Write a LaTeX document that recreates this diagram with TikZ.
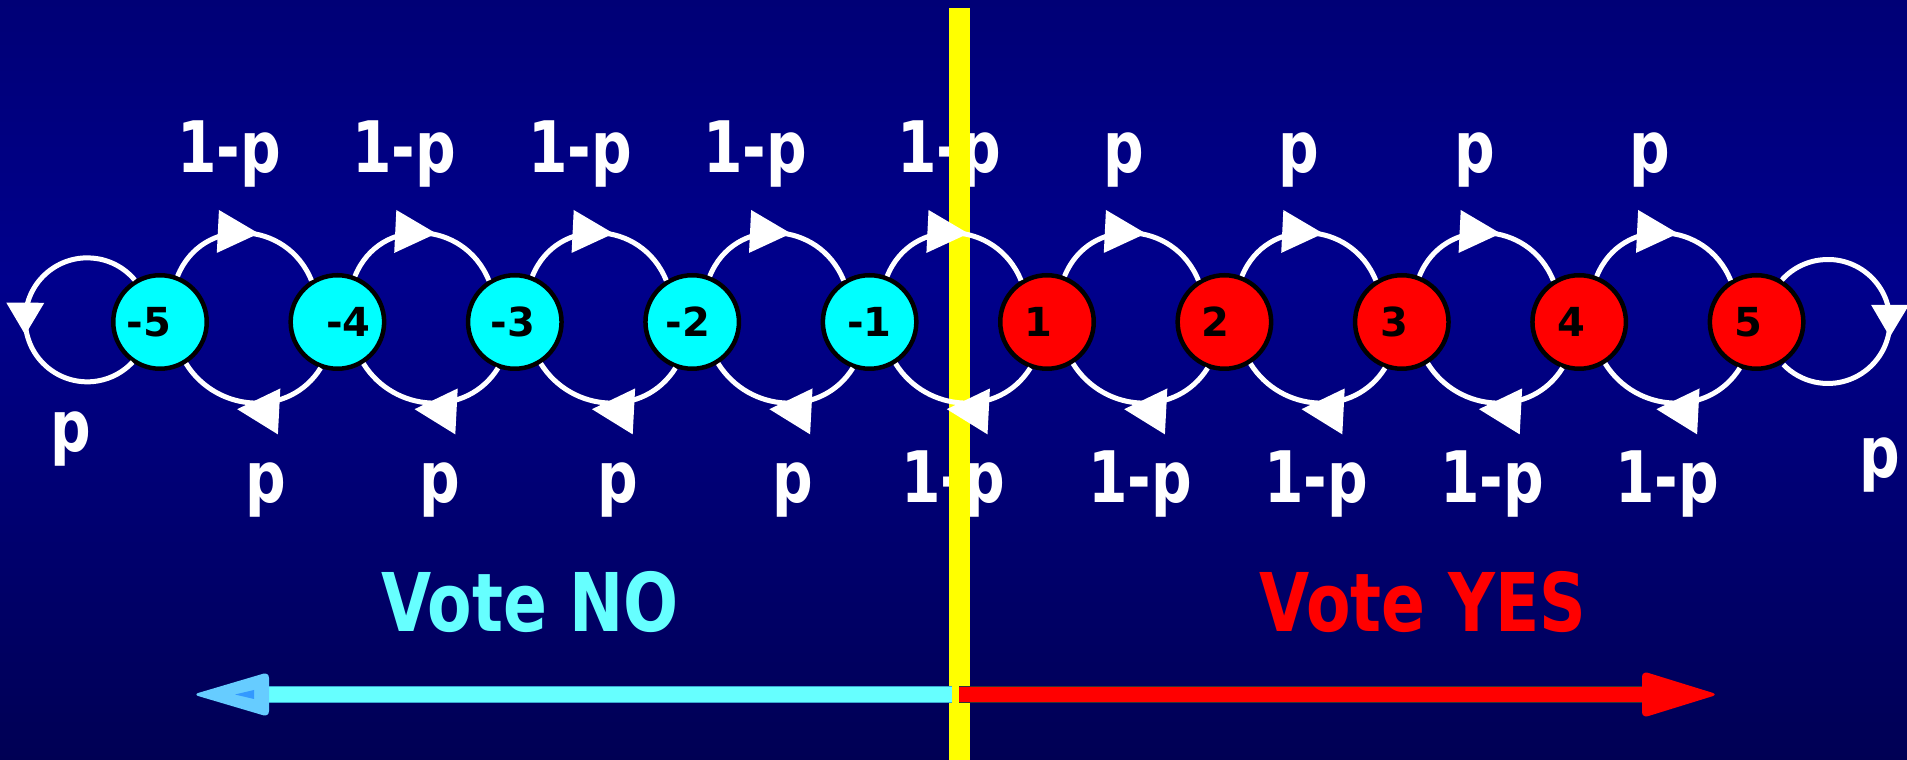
\documentclass[tikz,border=0pt]{standalone}
\usepackage{fontspec}
\usetikzlibrary{decorations.markings}
\newfontfamily\labfont[FakeStretch=0.8]{DejaVu Sans}
\newfontfamily\numfont{DejaVu Sans}
\definecolor{bgtop}{RGB}{0,0,118}
\definecolor{bgmid}{RGB}{0,0,140}
\definecolor{bgbot}{RGB}{0,0,84}
\definecolor{noclr}{RGB}{102,255,255}
\definecolor{noedge}{RGB}{60,170,210}
\definecolor{nohead}{RGB}{102,204,255}
\definecolor{noinner}{RGB}{51,153,255}
\definecolor{yesclr}{RGB}{255,0,0}
\definecolor{divider}{RGB}{255,255,0}
\definecolor{stateno}{RGB}{0,255,255}
\tikzset{
  statenode/.style={circle, draw=black, line width=4.5pt, minimum size=93.5pt, inner sep=0pt},
  nostate/.style={statenode, fill=stateno},
  yesstate/.style={statenode, fill=yesclr},
  statelabel/.style={font=\numfont\bfseries\fontsize{40}{40}\selectfont, text=black, inner sep=0pt},
  problabel/.style={anchor=base, text=white, font=\labfont\bfseries\fontsize{71}{71}\selectfont, inner sep=0pt},
  sidelabel/.style={anchor=base, font=\labfont\bfseries\fontsize{81}{81}\selectfont, inner sep=0pt},
  move/.style={draw=white, line width=5pt, postaction={decorate}},
  fwdmove/.style={move, decoration={markings, mark=at position 0.5 with
      {\fill[white] (13.5pt,0pt) -- (-27.5pt,21.5pt) -- (-27.5pt,-21.5pt) -- cycle;}}},
  backmove/.style={move, decoration={markings, mark=at position 0.5 with
      {\fill[white] (15pt,7pt) -- (-27pt,30pt) -- (-27pt,-16pt) -- cycle;}}},
  loopmove/.style={move, decoration={markings, mark=at position 0.505 with
      {\fill[white] (15pt,0pt) -- (-17pt,19pt) -- (-17pt,-19pt) -- cycle;}}},
}
\begin{document}
\begin{tikzpicture}[x=1pt,y=1pt]
\useasboundingbox (0,0) rectangle (1907,760);
% background
\shade[top color=bgtop, bottom color=bgmid] (0,760) rectangle (1907,479);
\shade[top color=bgmid, bottom color=bgbot] (0,480) rectangle (1907,0);

% transition probabilities
\foreach \x/\t [count=\k] in {229/1-p,404/1-p,580/1-p,755/1-p,949/1-p,1124/p,1299/p,1475/p,1650/p}
  \node[problabel] (up\k) at (\x,587) {\t};
\foreach \x/\t [count=\k] in {266/p,440/p,618/p,793/p,953/1-p,1140/1-p,1316/1-p,1492/1-p,1667/1-p}
  \node[problabel] (dn\k) at (\x,257) {\t};
\node[problabel] (stayno) at (71,308) {p};
\node[problabel] (stayyes) at (1880,282) {p};

% outcome labels
\node[sidelabel, text=noclr] (voteno) at (530,128) {Vote NO};
\node[sidelabel, text=yesclr] (voteyes) at (1423,128) {Vote YES};

% dividing line
\fill[divider] (949,0) rectangle (970,752);

% states
\foreach \lab/\off [count=\k] in {-5/-11,-4/11,-3/-2,-2/-4,-1/0} {
  \node[nostate] (s\k) at ({160+177.4*(\k-1)},438) {};
  \node[statelabel] (t\k) at ([xshift=\off pt]s\k) {\lab};
}
\foreach \lab/\off [count=\k from 6] in {1/-9,2/-9,3/-7,4/-8,5/-8} {
  \node[yesstate] (s\k) at ({160+177.4*(\k-1)},438) {};
  \node[statelabel] (t\k) at ([xshift=\off pt]s\k) {\lab};
}

% transitions between neighbouring states
\foreach \i [evaluate=\i as \j using int(\i+1)] in {1,...,9} {
  \draw[fwdmove] (s\i.69) to[out=68,in=112,looseness=1.25] (s\j.122);
  \draw[backmove] (s\j.250) to[out=-122,in=-58,looseness=1.11] (s\i.302);
}
% self loops at the ends
\draw[loopmove] (s1.121) arc[start angle=40, end angle=317, radius=62];
\draw[loopmove] (s10.59) arc[start angle=138, end angle=-136, radius=62];

% direction arrows
\coordinate (nostart) at (952,65.5);
\coordinate (nobase) at (269,65.5);
\coordinate (nopoint) at (193,65.5);
\coordinate (yesstart) at (959,65.5);
\coordinate (yesbase) at (1642,65.5);
\coordinate (yespoint) at (1718,65.5);
\draw[line width=17pt, noedge] (nostart) -- (nobase);
\draw[line width=15pt, noclr] (nostart) -- (nobase);
\fill[nohead, rounded corners=6pt] ([yshift=22.5pt]nobase) -- (nopoint) -- ([yshift=-22.5pt]nobase) -- cycle;
\fill[noinner] ([xshift=-34pt]nobase) -- ([xshift=-15pt,yshift=4.5pt]nobase) -- ([xshift=-15pt,yshift=-4.5pt]nobase) -- cycle;
\draw[line width=17pt, black!80] (yesstart) -- (yesbase);
\draw[line width=15pt, yesclr] (yesstart) -- (yesbase);
\fill[yesclr, rounded corners=6pt] ([yshift=23.5pt]yesbase) -- (yespoint) -- ([yshift=-23.5pt]yesbase) -- cycle;
\end{tikzpicture}
\end{document}
